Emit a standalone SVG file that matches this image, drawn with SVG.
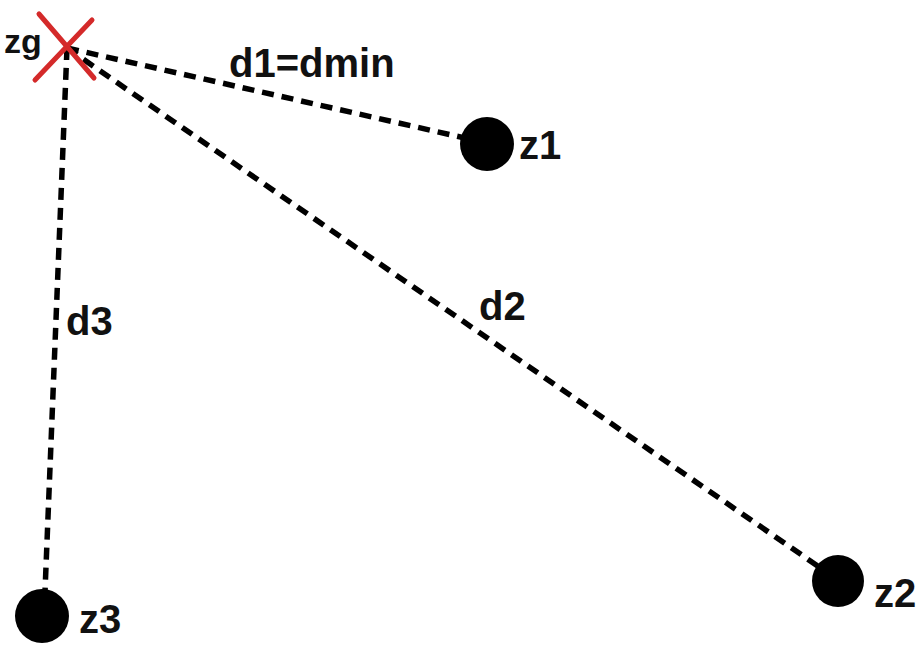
<svg xmlns="http://www.w3.org/2000/svg" width="918" height="646" viewBox="0 0 918 646">
<style>
.lbl{font-family:"Liberation Sans",Arial,sans-serif;font-weight:bold;font-size:40px;fill:#111}
.dash{stroke:#000;stroke-width:5.5;stroke-dasharray:12 8;fill:none}
.pt{fill:#000}
.cross{stroke:#d42a2a;stroke-width:5;stroke-linecap:round}
</style>
<rect width="918" height="646" fill="#fff"/>
<g id="connectors">
<line class="dash" x1="67" y1="48" x2="487" y2="143"/>
<line class="dash" x1="67" y1="48" x2="838" y2="580"/>
<line class="dash" x1="67" y1="48" x2="44" y2="616"/>
<text class="lbl" x="229" y="77">d1=dmin</text>
<text class="lbl" x="479" y="320">d2</text>
<text class="lbl" x="66" y="335">d3</text>
</g>
<g id="zg">
<line class="cross" x1="39" y1="14" x2="94" y2="78"/>
<line class="cross" x1="92" y1="20" x2="35" y2="80"/>
<text class="lbl" x="4" y="53" style="font-size:34px">zg</text>
</g>
<g id="z1">
<circle class="pt" cx="487" cy="144" r="27"/>
<text class="lbl" x="519" y="159">z1</text>
</g>
<g id="z2">
<circle class="pt" cx="838" cy="581" r="26"/>
<text class="lbl" x="874" y="607">z2</text>
</g>
<g id="z3">
<circle class="pt" cx="42" cy="616" r="27"/>
<text class="lbl" x="79" y="633">z3</text>
</g>
</svg>
